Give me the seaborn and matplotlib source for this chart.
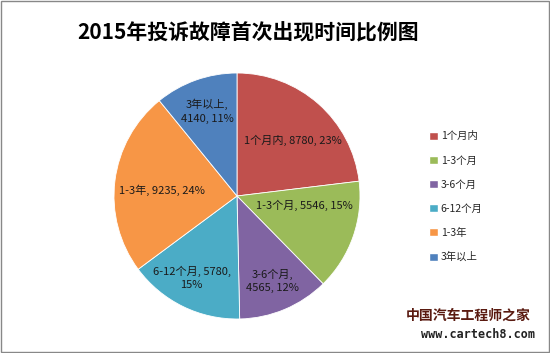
import matplotlib
matplotlib.use("Agg")
import matplotlib.pyplot as plt
import seaborn as sns
import numpy as np
from matplotlib.patches import Rectangle

categories = ["1个月内", "1-3个月", "3-6个月", "6-12个月", "1-3年", "3年以上"]
values = [8780, 5546, 4565, 5780, 9235, 4140]
percents = [23, 15, 12, 15, 24, 11]
label_texts = ["1个月内, 8780, 23%", "1-3个月, 5546, 15%", "3-6个月,\n4565, 12%",
               "6-12个月, 5780,\n15%", "1-3年, 9235, 24%", "3年以上,\n4140, 11%"]
title = "2015年投诉故障首次出现时间比例图"

colors = ["#C0504D", "#9BBB59", "#8064A2", "#4BACC6", "#F79646", "#4F81BD"]
label_dist = [0.64, 0.55, 0.75, 0.76, 0.61, 0.73]
label_shift = [-4, 11, 0, -3, 3, 0]

sns.set_theme(style="white")
plt.rcParams['font.family'] = ['Noto Sans CJK SC', 'DejaVu Sans']

fig = plt.figure(figsize=(5.5, 3.53), dpi=100)
fig.patch.set_facecolor("white")
fig.patches.append(Rectangle((0.002, 0.003), 0.996, 0.994, transform=fig.transFigure,
                             fill=False, edgecolor="#888888", linewidth=1))

ax = fig.add_axes([114/550, 1 - 319/353, 246/550, 246/353])
wedges, _ = ax.pie(values, colors=colors, startangle=90, counterclock=False,
                   wedgeprops=dict(edgecolor="white", linewidth=0.6))
ax.set_xlim(-1.0, 1.0)
ax.set_ylim(-1.0, 1.0)
ax.set_aspect("equal")
ax.axis("off")

for w, txt, d, s in zip(wedges, label_texts, label_dist, label_shift):
    ang = np.deg2rad((w.theta1 + w.theta2) / 2 + s)
    ax.text(d * np.cos(ang), d * np.sin(ang), txt, ha="center", va="center",
            fontsize=8, color="#1a1a1a", linespacing=1.45)

fig.text(248/550, 1 - 33/353, title, ha="center", va="center",
         fontsize=15, fontweight="bold", color="#000000")

handles = [Rectangle((0, 0), 1, 1, facecolor=c) for c in colors]
leg = fig.legend(handles, categories, loc="upper left", bbox_to_anchor=(420/550, 1 - 122/353),
                 frameon=False, fontsize=7.5, handlelength=0.8, handleheight=0.8,
                 labelspacing=1.35, handletextpad=0.3)

fig.text(468/550, 1 - 316/353, "中国汽车工程师之家", ha="center", va="center",
         fontsize=10, fontweight="bold", color="#5a1a10")
fig.text(478/550, 1 - 334/353, "www.cartech8.com", ha="center", va="center",
         fontsize=8.5, fontweight="bold", color="#222222", family="DejaVu Sans Mono")

fig.savefig("out.png", dpi=100)
